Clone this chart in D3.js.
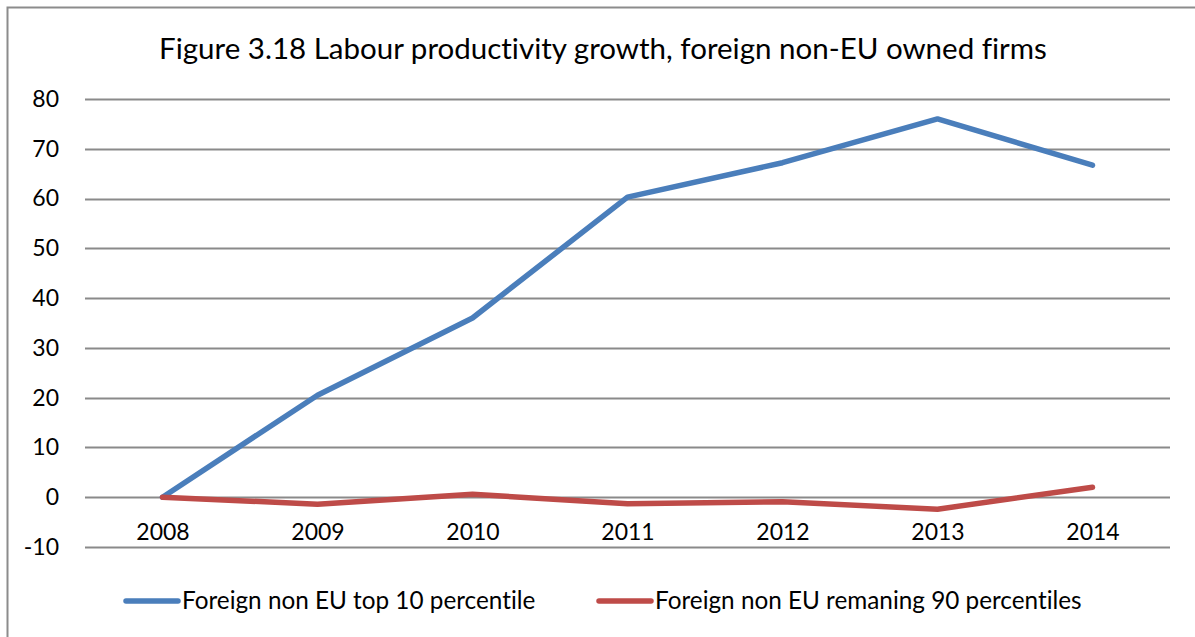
<!DOCTYPE html>
<html>
<head>
<meta charset="utf-8">
<script src="https://cdn.jsdelivr.net/npm/d3@7"></script>
<style>
  html, body { margin: 0; padding: 0; background: #fff; }
  svg { display: block; font-family: Lato, "Open Sans", sans-serif; font-variant-ligatures: none; font-feature-settings: "liga" 0, "dlig" 0; }
</style>
</head>
<body>
<svg id="chart" width="1195" height="637"></svg>
<script>
// Years on the category axis
const years = ["2008", "2009", "2010", "2011", "2012", "2013", "2014"];
// Labour productivity growth (%), top 10 percentile of foreign non-EU firms
const top10 = [0, 20.5, 36.0, 60.3, 67.2, 76.0, 66.7];
// Labour productivity growth (%), remaining 90 percentiles
const rest90 = [0, -1.4, 0.6, -1.3, -0.9, -2.4, 2.0];
// Value axis ticks
const yTicks = [-10, 0, 10, 20, 30, 40, 50, 60, 70, 80];

const seriesNames = ["Foreign non EU top 10 percentile", "Foreign non EU remaning 90 percentiles"];
const seriesColors = ["#4a7ebb", "#be4b48"];
const series = [top10, rest90];

const svg = d3.select("#chart");
const W = 1195, H = 637;
const plot = { left: 85, right: 1170, top: 99, bottom: 547 };

// Outer chart frame
svg.append("rect")
  .attr("x", 7.5).attr("y", 7.5)
  .attr("width", W + 10).attr("height", H + 10)
  .attr("fill", "#fff").attr("stroke", "#8c8c8c").attr("stroke-width", 2);

// Title
svg.append("text")
  .attr("x", 603).attr("y", 59)
  .attr("text-anchor", "middle")
  .attr("font-size", 29.5)
  .attr("fill", "#000")
  .text("Figure 3.18 Labour productivity growth, foreign non-EU owned firms");

const x = d3.scalePoint().domain(years).range([plot.left, plot.right]).padding(0.5);
const y = d3.scaleLinear().domain([-10, 80]).range([plot.bottom, plot.top]);

// Horizontal gridlines
svg.append("g")
  .selectAll("line")
  .data(yTicks)
  .join("line")
  .attr("x1", plot.left).attr("x2", plot.right)
  .attr("y1", d => Math.round(y(d)) + 0.5).attr("y2", d => Math.round(y(d)) + 0.5)
  .attr("stroke", "#8a8a8a").attr("stroke-width", 2);

// Value axis labels (plain hyphen for negatives)
const yAxis = d3.axisLeft(y).tickValues(yTicks).tickSize(0).tickPadding(0).tickFormat(d => String(d));
const gy = svg.append("g").attr("transform", "translate(59,0)").call(yAxis);
gy.select(".domain").remove();
gy.selectAll("text").attr("font-size", 23).attr("font-family", "Lato, sans-serif").attr("fill", "#000");

// Category labels sit just below the zero line
const xAxis = d3.axisBottom(x).tickSize(0).tickPadding(0);
const gx = svg.append("g").attr("transform", `translate(0,${y(0) + 26.5})`).call(xAxis);
gx.select(".domain").remove();
gx.selectAll("text").attr("font-size", 23).attr("font-family", "Lato, sans-serif").attr("fill", "#000");

// Series lines
const line = d3.line().x((d, i) => x(years[i])).y(d => y(d));
series.forEach((vals, k) => {
  svg.append("path")
    .datum(vals)
    .attr("d", line)
    .attr("fill", "none")
    .attr("stroke", seriesColors[k])
    .attr("stroke-width", 5.5)
    .attr("stroke-linejoin", "round")
    .attr("stroke-linecap", "round");
});

// Legend
const legendX = [126, 599];
const legendY = 601;
seriesNames.forEach((name, k) => {
  const g = svg.append("g").attr("transform", `translate(${legendX[k]},${legendY})`);
  g.append("line")
    .attr("x1", 0).attr("x2", 52)
    .attr("stroke", seriesColors[k]).attr("stroke-width", 5.5)
    .attr("stroke-linecap", "round");
  g.append("text")
    .attr("x", 56).attr("y", 7.5)
    .attr("font-size", 24.3)
    .attr("fill", "#000")
    .text(name);
});
</script>
</body>
</html>
